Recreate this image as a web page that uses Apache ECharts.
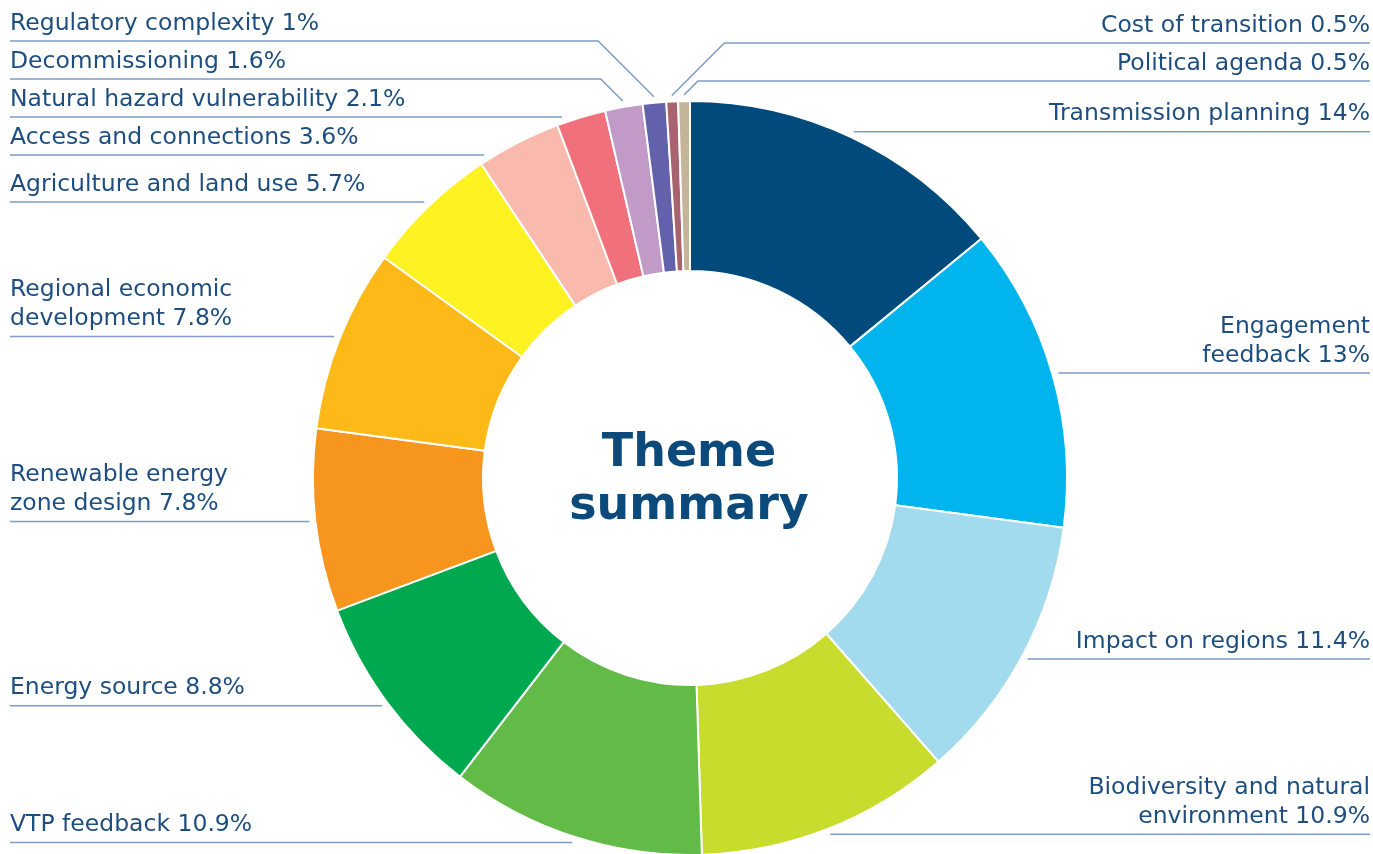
<!DOCTYPE html>
<html>
<head>
<meta charset="utf-8">
<script src="https://cdn.jsdelivr.net/npm/echarts@6/dist/echarts.min.js"></script>
<style>
html,body{margin:0;padding:0;background:#ffffff;}
#chart{width:1373px;height:854px;}
</style>
</head>
<body>
<div id="chart"></div>
<script>
// ---- data ----
const categories = [
  'Transmission planning', 'Engagement feedback', 'Impact on regions',
  'Biodiversity and natural environment', 'VTP feedback', 'Energy source',
  'Renewable energy zone design', 'Regional economic development',
  'Agriculture and land use', 'Access and connections',
  'Natural hazard vulnerability', 'Decommissioning', 'Regulatory complexity',
  'Cost of transition', 'Political agenda'
];
const labelTexts = [
  'Transmission planning', 'Engagement\nfeedback', 'Impact on regions',
  'Biodiversity and natural\nenvironment', 'VTP feedback', 'Energy source',
  'Renewable energy\nzone design', 'Regional economic\ndevelopment',
  'Agriculture and land use', 'Access and connections',
  'Natural hazard vulnerability', 'Decommissioning', 'Regulatory complexity',
  'Cost of transition', 'Political agenda'
];
const values = [14, 13, 11.4, 10.9, 10.9, 8.8, 7.8, 7.8, 5.7, 3.6, 2.1, 1.6, 1, 0.5, 0.5];
const colors = [
  '#004a7c', '#00b4ee', '#a3dbee', '#c8dc2e', '#63bb47', '#00a84f',
  '#f7961f', '#fcb918', '#fff223', '#f9b9ad', '#f0717c', '#c19ac8',
  '#6361ab', '#a9636f', '#c3b49a'
];
const centerTitle = 'Theme\nsummary';

// ---- layout config ----
const W = 1373, H = 854;
const CX = 690, CY = 478, R_IN = 207, R_OUT = 377, R_LINE = 383;
const LH = 29, PAD = 9, TOP_TEXT = 12, BOTTOM_LINE = 848, CLEAR = 20;
const LEFT_X = 10, RIGHT_X = 1370;
const SPLIT_ANGLE = 356; // slices whose mid angle is beyond this go to the right side
const TEXT_COLOR = '#1d4e7f', LINE_COLOR = '#7d9cc7';
const FONT = '"DejaVu Sans"';

const total = values.reduce((a, b) => a + b, 0);
const spans = [];
{ let s = 0; values.forEach(v => { spans.push([s / total * 360, (s + v) / total * 360]); s += v; }); }
const rad = d => d * Math.PI / 180;

// does a horizontal line at y hit the ring inside slice i on the given side?
function hitX(i, y, isLeft) {
  const dy = y - CY;
  if (Math.abs(dy) >= R_LINE) return null;
  const dx = Math.sqrt(R_LINE * R_LINE - dy * dy) * (isLeft ? -1 : 1);
  let ang = Math.atan2(dx, -dy) * 180 / Math.PI;
  if (ang < 0) ang += 360;
  return (ang >= spans[i][0] && ang <= spans[i][1]) ? CX + dx : null;
}

const layouts = new Array(values.length);
(function computeLayout() {
  const items = values.map((v, i) => {
    const mid = (spans[i][0] + spans[i][1]) / 2;
    const right = mid < 180 || mid >= SPLIT_ANGLE;
    const nLines = labelTexts[i].split('\n').length;
    let ideal = CY - R_LINE * Math.cos(rad(mid));
    if (hitX(i, ideal, !right) === null) ideal = Math.min(ideal, CY - R_OUT - CLEAR);
    return { i, mid, right, h: nLines * LH, ideal };
  });
  const key = d => (d.mid >= SPLIT_ANGLE ? d.mid - 360 : d.mid);
  const rightSide = items.filter(d => d.right).sort((a, b) => key(a) - key(b));
  const leftSide = items.filter(d => !d.right).sort((a, b) => b.mid - a.mid);
  [leftSide, rightSide].forEach(list => {
    const n = list.length;
    for (let k = n - 1; k >= 0; k--) {
      const lim = k < n - 1 ? list[k + 1].y - (list[k + 1].h + PAD) : BOTTOM_LINE;
      list[k].y = Math.min(list[k].ideal, lim);
    }
    for (let k = 0; k < n; k++) {
      const lim = k > 0 ? list[k - 1].y + list[k].h + PAD : TOP_TEXT + list[k].h;
      list[k].y = Math.max(list[k].y, lim);
    }
    list.forEach(d => {
      const isLeft = !d.right;
      const edgeX = isLeft ? LEFT_X : RIGHT_X;
      const lineY = d.y;
      let pts = null;
      const hx = hitX(d.i, lineY, isLeft);
      if (hx !== null) {
        pts = [[hx, lineY], [hx, lineY], [edgeX, lineY]];
      } else {
        const px = CX + R_LINE * Math.sin(rad(d.mid));
        const py = CY - R_LINE * Math.cos(rad(d.mid));
        const dd = Math.abs(lineY - py);
        const qx = px + (isLeft ? -dd : dd);
        pts = [[px, py], [qx, lineY], [edgeX, lineY]];
      }
      layouts[d.i] = {
        x: edgeX,
        y: lineY - 3,
        align: isLeft ? 'left' : 'right',
        verticalAlign: 'bottom',
        labelLinePoints: pts
      };
    });
  });
})();

const chart = echarts.init(document.getElementById('chart'), null, { renderer: 'canvas' });
chart.setOption({
  backgroundColor: '#ffffff',
  animation: false,
  graphic: [{
    type: 'text',
    x: CX - 1,
    y: CY + 3,
    style: {
      text: centerTitle,
      fill: '#0b4a7b',
      font: 'bold 46px ' + FONT,
      align: 'center',
      verticalAlign: 'middle',
      textAlign: 'center',
      textVerticalAlign: 'middle',
      lineHeight: 53
    }
  }],
  series: [{
    type: 'pie',
    center: [CX, CY],
    radius: [R_IN, R_OUT],
    startAngle: 90,
    clockwise: true,
    avoidLabelOverlap: false,
    itemStyle: { borderColor: '#ffffff', borderWidth: 2 },
    label: {
      show: true,
      position: 'outside',
      color: TEXT_COLOR,
      fontFamily: FONT,
      fontSize: 23.5,
      lineHeight: LH,
      formatter: p => labelTexts[p.dataIndex] + ' ' + values[p.dataIndex] + '%'
    },
    labelLine: {
      show: true,
      length: 5,
      length2: 10,
      lineStyle: { color: LINE_COLOR, width: 1.5 }
    },
    labelLayout: params => layouts[params.dataIndex],
    emphasis: { disabled: true },
    data: categories.map((name, i) => ({ name, value: values[i], itemStyle: { color: colors[i] } }))
  }]
});
</script>
</body>
</html>
